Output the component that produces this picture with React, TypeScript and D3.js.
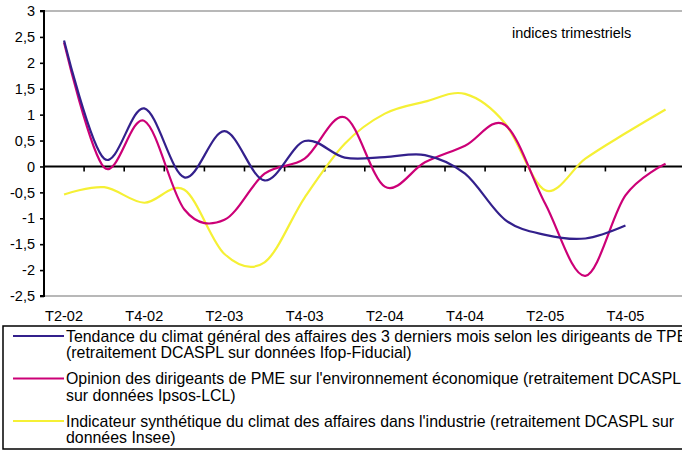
import React, { useEffect, useRef } from "react";
import { select, scaleLinear, scaleBand, line, curveCardinal, axisLeft, axisBottom, range } from "d3";

const categories = [
  "T2-02", "T3-02", "T4-02", "T1-03", "T2-03", "T3-03", "T4-03", "T1-04",
  "T2-04", "T3-04", "T4-04", "T1-05", "T2-05", "T3-05", "T4-05", "T1-06",
];
const shownLabels = ["T2-02", "T4-02", "T2-03", "T4-03", "T2-04", "T4-04", "T2-05", "T4-05"];

const tpe = [2.43, 0.15, 1.12, -0.21, 0.68, -0.27, 0.49, 0.17, 0.18, 0.22, -0.14, -1.03, -1.32, -1.39, -1.14, null];
const pme = [2.39, -0.02, 0.88, -0.83, -1.03, -0.14, 0.15, 0.95, -0.39, 0.08, 0.4, 0.8, -0.72, -2.11, -0.56, 0.05];
const industrie = [-0.54, -0.4, -0.7, -0.45, -1.69, -1.85, -0.6, 0.44, 1.02, 1.25, 1.4, 0.83, -0.46, 0.15, 0.64, 1.1];

const yTicks = range(-2.5, 3.01, 0.5);

const legendItems = [
  { lines: ["Tendance du climat général des affaires des 3 derniers mois selon les dirigeants de TPE", "(retraitement DCASPL sur données Ifop-Fiducial)"], color: "#33208c" },
  { lines: ["Opinion des dirigeants de PME sur l'environnement économique (retraitement DCASPL", "sur données Ipsos-LCL)"], color: "#cc0077" },
  { lines: ["Indicateur synthétique du climat des affaires dans l'industrie (retraitement DCASPL sur", "données Insee)"], color: "#f5f035" },
];

const W = 682;
const H = 451;
const left = 44;
const top = 11;
const bottom = 296;
const font = "'Liberation Sans', Arial, sans-serif";

function App() {
  const ref = useRef<SVGSVGElement>(null);

  useEffect(() => {
    const svg = select(ref.current);
    svg.selectAll("*").remove();

    const x = scaleBand<string>().domain(categories).range([left, left + 40.1 * categories.length]);
    const y = scaleLinear().domain([-2.5, 3]).range([bottom, top]);
    const cx = (i: number) => (x(categories[i]) as number) + x.bandwidth() / 2;

    // top / bottom frame lines
    svg.append("line").attr("x1", left).attr("x2", W).attr("y1", y(3)).attr("y2", y(3))
      .attr("stroke", "#a0a0a0").attr("stroke-width", 1.6);
    svg.append("line").attr("x1", left).attr("x2", W).attr("y1", y(-2.5)).attr("y2", y(-2.5))
      .attr("stroke", "#a0a0a0").attr("stroke-width", 1.6);

    // y axis
    const yAxis = axisLeft(y).tickValues(yTicks).tickSize(4).tickPadding(5)
      .tickFormat((d) => String(Math.round((d as number) * 10) / 10).replace(".", ","));
    const gy = svg.append("g").attr("transform", `translate(${left},0)`).call(yAxis);
    gy.select(".domain").attr("stroke", "#000").attr("stroke-width", 2).attr("d", `M-4,${top}H0V${bottom}H-4`);
    gy.selectAll(".tick line").attr("stroke", "#000").attr("stroke-width", 1.6);
    gy.selectAll("text").attr("font-family", font).attr("font-size", 14.5).attr("fill", "#000");

    // x axis on zero line, ticks between categories
    const boundaries = range(1, categories.length + 1).map((i) => left + x.step() * i);
    const gx = svg.append("g").attr("transform", `translate(0,${y(0)})`);
    gx.append("line").attr("x1", left).attr("x2", W).attr("stroke", "#000").attr("stroke-width", 2);
    gx.selectAll(".tk").data(boundaries).join("line").attr("class", "tk")
      .attr("x1", (d) => d).attr("x2", (d) => d).attr("y1", 0).attr("y2", 5)
      .attr("stroke", "#000").attr("stroke-width", 1.6);

    // category labels at the bottom
    const xAxis = axisBottom(x).tickValues(shownLabels).tickSize(0).tickPadding(0);
    const gl = svg.append("g").attr("transform", `translate(0,${bottom + 15})`).call(xAxis);
    gl.select(".domain").remove();
    gl.selectAll("text").attr("font-family", font).attr("font-size", 14.5).attr("fill", "#000");

    // series
    const series = [
      { values: industrie, color: legendItems[2].color },
      { values: pme, color: legendItems[1].color },
      { values: tpe, color: legendItems[0].color },
    ];
    const myLine = line<number | null>()
      .defined((v) => v !== null)
      .x((v, i) => cx(i))
      .y((v) => y(v as number))
      .curve(curveCardinal.tension(0));
    svg.selectAll(".series").data(series).join("path").attr("class", "series")
      .attr("d", (s) => myLine(s.values))
      .attr("fill", "none").attr("stroke", (s) => s.color).attr("stroke-width", 2.2);

    svg.append("text").attr("x", 512).attr("y", 38).attr("font-family", font).attr("font-size", 14.5)
      .text("indices trimestriels");

    // legend
    const lg = svg.append("g");
    lg.append("rect").attr("x", 3).attr("y", 326).attr("width", W + 10).attr("height", 123)
      .attr("fill", "#fff").attr("stroke", "#000").attr("stroke-width", 1.5);
    legendItems.forEach((item, k) => {
      const ly = 336 + k * 42.5;
      lg.append("line").attr("x1", 13).attr("x2", 64).attr("y1", ly).attr("y2", ly)
        .attr("stroke", item.color).attr("stroke-width", 2);
      item.lines.forEach((t, j) => {
        lg.append("text").attr("x", 66).attr("y", ly + 5.5 + j * 16.5)
          .attr("font-family", font).attr("font-size", 15.9).attr("fill", "#000").text(t);
      });
    });
  }, []);

  return (
    <svg ref={ref} width={W} height={H} style={{ position: "absolute", left: 0, top: 0, background: "#fff" }} />
  );
}

export default App;
